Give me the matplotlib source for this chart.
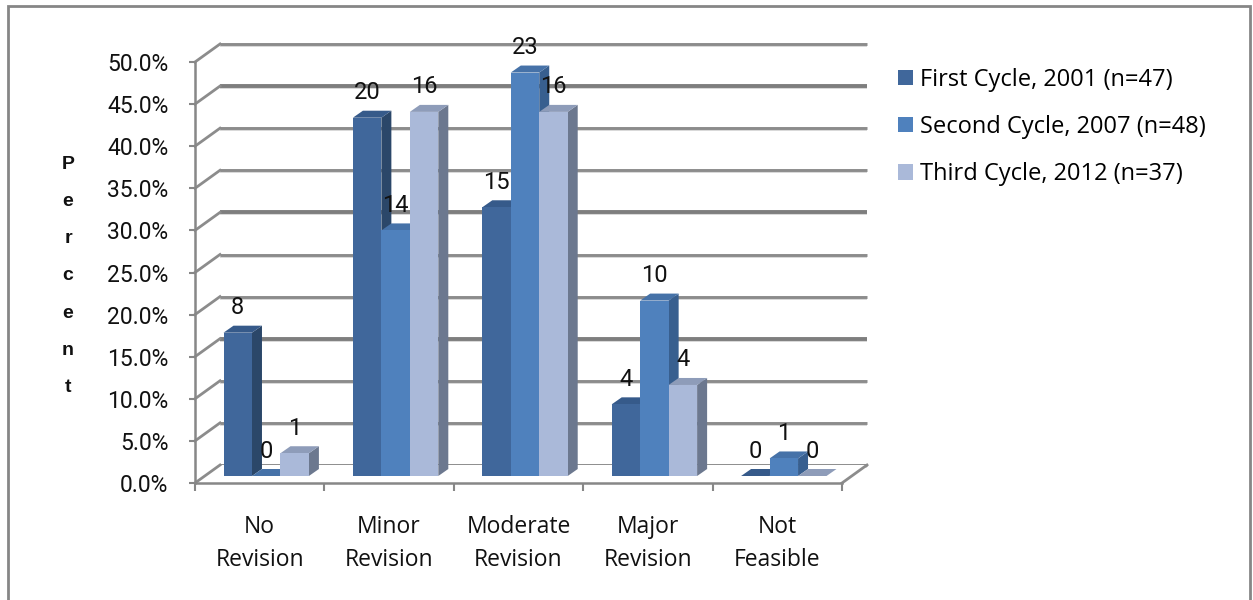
import matplotlib
matplotlib.use("Agg")
import matplotlib.pyplot as plt
from matplotlib.patches import Polygon, Rectangle, Patch

# ---- data -------------------------------------------------------------
categories = ["No\nRevision", "Minor\nRevision", "Moderate\nRevision",
              "Major\nRevision", "Not\nFeasible"]
series_names = ["First Cycle, 2001 (n=47)",
                "Second Cycle, 2007 (n=48)",
                "Third Cycle, 2012 (n=37)"]
sample_sizes = [47, 48, 37]
first_counts = [8, 20, 15, 4, 0]
second_counts = [0, 14, 23, 10, 1]
third_counts = [1, 16, 16, 4, 0]
y_ticks = [0, 5, 10, 15, 20, 25, 30, 35, 40, 45, 50]
y_tick_labels = [f"{t:.1f}%" for t in y_ticks]

counts = [first_counts, second_counts, third_counts]
percents = [[c / n * 100 for c in cs] for cs, n in zip(counts, sample_sizes)]

# ---- styling ------------------------------------------------------------
face_colors = ["#40679b", "#4f81bd", "#aab9d9"]
side_colors = ["#2b4769", "#385f8f", "#6c788f"]
top_colors = ["#365a8a", "#4672a8", "#8e9cb9"]
grid_color = "#8c8c8c"
narrow = ["Roboto", "DejaVu Sans"]
regular = ["Open Sans", "DejaVu Sans"]

W, H = 1253, 600
fig = plt.figure(figsize=(W / 100, H / 100), dpi=100)


def rect(left, base_from_top, width, height):
    """Axes rectangle given in pixels, base measured from the top edge."""
    return [left / W, 1 - base_from_top / H, width / W, height / H]


PLOT_W, PLOT_H = 647, 421
FRONT_LEFT, FRONT_BASE = 195, 483
DEPTH_X, DEPTH_Y = 25, 18        # full depth of the floor in pixels
BAR_SHIFT_X, BAR_SHIFT_Y = 10, 7  # plane where the bars stand
BAR_DX, BAR_DY = 10, 7            # thickness of each column

XLIM = (-0.5, len(categories) - 0.5)
YLIM = (0, 50)


def make_axes(left, base, z):
    a = fig.add_axes(rect(left, base, PLOT_W, PLOT_H), zorder=z)
    a.set_xlim(*XLIM)
    a.set_ylim(*YLIM)
    a.patch.set_visible(False)
    return a


back = make_axes(FRONT_LEFT + DEPTH_X, FRONT_BASE - DEPTH_Y, 0)
bars = make_axes(FRONT_LEFT + BAR_SHIFT_X, FRONT_BASE - BAR_SHIFT_Y, 1)
front = make_axes(FRONT_LEFT, FRONT_BASE, 2)
back.axis("off")
bars.axis("off")

# pixel -> data conversions for the bar plane
px_x = (XLIM[1] - XLIM[0]) / PLOT_W
px_y = (YLIM[1] - YLIM[0]) / PLOT_H

# ---- back wall gridlines ------------------------------------------------
for t in y_ticks:
    heavy = t in (15, 30, 45)
    back.plot(XLIM, [t - 2 * px_y] * 2, color="#d2d2d2", lw=1.2,
              solid_capstyle="butt", clip_on=False)
    back.plot(XLIM, [t, t], color="#7e7e7e" if heavy else grid_color,
              lw=2.8 if heavy else 2.1, solid_capstyle="butt", clip_on=False)

# slanted side-wall lines from the value axis to the back wall
fx, fy = -BAR_SHIFT_X * px_x, -BAR_SHIFT_Y * px_y
bx, by = (DEPTH_X - BAR_SHIFT_X) * px_x, (DEPTH_Y - BAR_SHIFT_Y) * px_y
for t in y_ticks:
    bars.plot([XLIM[0] + fx, XLIM[0] + bx], [t + fy, t + by],
              color=grid_color, lw=2.0, clip_on=False, zorder=0.5)

# floor right edge
bars.plot([XLIM[1] + fx, XLIM[1] + bx], [fy, by], color=grid_color,
          lw=2.0, clip_on=False, zorder=0.5)
bars.add_patch(Polygon([(XLIM[0] + fx, fy), (XLIM[1] + fx, fy),
                        (XLIM[1] + bx, by), (XLIM[0] + bx, by)],
                       closed=True, facecolor="white", edgecolor="none",
                       zorder=0.4, clip_on=False))

# ---- 3-D columns -------------------------------------------------------
bar_w = 0.22
group_shift = -0.027
ddx, ddy = BAR_DX * px_x, BAR_DY * px_y
for j, (vals, cnts) in enumerate(zip(percents, counts)):
    xs = [i + (j - 1) * bar_w + group_shift for i in range(len(categories))]
    bars.bar(xs, vals, width=bar_w, color=face_colors[j], zorder=2.5 + j,
             clip_on=False)
    for x, v, c in zip(xs, vals, cnts):
        xl, xr = x - bar_w / 2, x + bar_w / 2
        bars.add_patch(Polygon([(xr, 0), (xr, v), (xr + ddx, v + ddy),
                                (xr + ddx, ddy)], closed=True,
                               facecolor=side_colors[j], edgecolor="none",
                               zorder=2 + j, clip_on=False))
        bars.add_patch(Polygon([(xl, v), (xr, v), (xr + ddx, v + ddy),
                                (xl + ddx, v + ddy)], closed=True,
                               facecolor=top_colors[j], edgecolor="none",
                               zorder=2.2 + j, clip_on=False))
        bars.annotate(str(c), (x, v), xytext=(0, 25),
                      textcoords="offset pixels", ha="center", va="center",
                      fontsize=17, family=narrow, color="#111111",
                      zorder=10, annotation_clip=False)

# ---- front axes: value axis and category axis --------------------------
for side in ("top", "right"):
    front.spines[side].set_visible(False)
for side in ("left", "bottom"):
    front.spines[side].set_color("#878787")
    front.spines[side].set_linewidth(1.8)

front.set_yticks(y_ticks)
front.set_yticklabels(y_tick_labels, family=narrow, fontsize=16.5,
                      color="#111111")
front.tick_params(axis="y", length=4, width=1.5, color="#878787", pad=15)

boundaries = [i - 0.5 for i in range(len(categories) + 1)]
front.set_xticks(boundaries)
front.set_xticklabels([])
front.tick_params(axis="x", which="major", length=6, width=1.5,
                  color="#878787")
front.set_xticks(range(len(categories)), minor=True)
front.set_xticklabels(categories, minor=True, family=regular, fontsize=16.5,
                      color="#111111", linespacing=1.5)
front.tick_params(axis="x", which="minor", length=0, pad=23)

# vertical axis title, one letter per line
fig.text(68 / W, 1 - 276 / H, "\n".join("Percent"), ha="center",
         va="center", fontsize=14, fontweight="bold", linespacing=2.55,
         family=["Liberation Sans", "DejaVu Sans"], color="#111111")

# ---- legend --------------------------------------------------------------
handles = [Patch(facecolor=c, edgecolor="none") for c in face_colors]
fig.legend(handles, series_names, loc="upper left",
           bbox_to_anchor=(898 / W, 1 - 68 / H), frameon=False,
           prop={"family": regular, "size": 17}, handlelength=0.62,
           handleheight=0.62, handletextpad=0.3, labelspacing=0.98,
           borderpad=0, borderaxespad=0)

# ---- outer frame ---------------------------------------------------------
fig.add_artist(Rectangle((8 / W, -0.05), (1250 - 8) / W, 1.05 - 6 / H,
                         transform=fig.transFigure, fill=False,
                         edgecolor="#868686", lw=2))

fig.savefig("out.png", dpi=100, facecolor="white")
